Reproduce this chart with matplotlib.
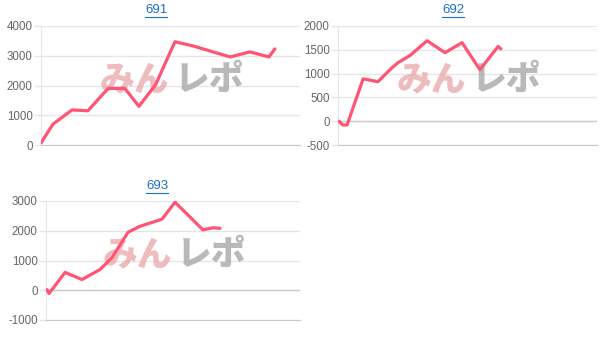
import matplotlib
matplotlib.use("Agg")
import matplotlib.pyplot as plt
from matplotlib.lines import Line2D

# ---- data (x = games, y = medal difference) ----
titles = ["691", "692", "693"]

x_691 = [0, 460, 1200, 1810, 2590, 3240, 3780, 4420, 5170, 5870, 7300, 8070, 8800, 9030]
y_691 = [70, 700, 1180, 1150, 1900, 1900, 1300, 2020, 3470, 3330, 2960, 3130, 2960, 3230]

x_692 = [40, 190, 350, 970, 1540, 2080, 2320, 2780, 3440, 4130, 4790, 5480, 6180, 6290]
y_692 = [0, -80, -80, 890, 830, 1120, 1230, 1380, 1690, 1440, 1650, 1080, 1570, 1520]

x_693 = [40, 120, 750, 1420, 2130, 2600, 3230, 3700, 4570, 5080, 6180, 6570, 6850]
y_693 = [20, -110, 600, 360, 700, 1100, 1950, 2150, 2390, 2960, 2030, 2100, 2080]

yticks_691 = [0, 1000, 2000, 3000, 4000]
yticks_692 = [-500, 0, 500, 1000, 1500, 2000]
yticks_693 = [-1000, 0, 1000, 2000, 3000]

X_MAX = 10000

LINE_C = "#ff5473"
GRID_C = "#e6e6e6"
TICK_C = "#666666"
TITLE_C = "#1a6fd0"

W, H = 603, 342
fig = plt.figure(figsize=(W / 100, H / 100), dpi=100)
plt.rcParams["font.family"] = ["Liberation Sans", "DejaVu Sans"]


def fx(px):
    return px / W


def fy(py):
    return 1 - py / H


panels = [
    dict(left=41, right=300, top=26, bottom=145, x=x_691, y=y_691, yt=yticks_691,
         title=titles[0], tx=156, ty=10),
    dict(left=338, right=597, top=26, bottom=145, x=x_692, y=y_692, yt=yticks_692,
         title=titles[1], tx=453, ty=10),
    dict(left=46, right=300, top=201, bottom=320, x=x_693, y=y_693, yt=yticks_693,
         title=titles[2], tx=157, ty=186),
]

for p in panels:
    ax = fig.add_axes([fx(p["left"]), fy(p["bottom"]), fx(p["right"] - p["left"]),
                       (p["bottom"] - p["top"]) / H])
    ax.set_xlim(0, X_MAX)
    ax.set_ylim(p["yt"][0], p["yt"][-1])
    ax.set_yticks(p["yt"])
    ax.set_yticklabels([str(v) for v in p["yt"]])
    ax.set_xticks([])
    ax.grid(axis="y", color=GRID_C, linewidth=1)
    ax.set_axisbelow(True)
    for s in ["top", "right"]:
        ax.spines[s].set_visible(False)
    ax.spines["left"].set_color(GRID_C)
    ax.spines["bottom"].set_color("#c8c8c8")
    ax.tick_params(axis="y", colors=GRID_C, labelcolor=TICK_C, labelsize=8.3, length=5,
                   width=1, pad=1)
    if p["yt"][0] < 0:
        ax.axhline(0, color="#cccccc", linewidth=1, zorder=1)
    # watermark
    ax.text(0.495, 0.55, "みん", transform=ax.transAxes, ha="right", va="center",
            fontsize=25, fontweight="black", color="#e8a0a4", alpha=0.7,
            family=["Noto Sans CJK JP", "DejaVu Sans"], zorder=1)
    ax.text(0.515, 0.55, "レポ", transform=ax.transAxes, ha="left", va="center",
            fontsize=25, fontweight="black", color="#a8a8a8", alpha=0.8,
            family=["Noto Sans CJK JP", "DejaVu Sans"], zorder=1)
    ax.plot(p["x"], p["y"], color=LINE_C, linewidth=2.3, solid_joinstyle="round",
            solid_capstyle="round", zorder=3)
    # title (underlined link style)
    fig.text(fx(p["tx"]), fy(p["ty"]), p["title"], ha="center", va="center",
             fontsize=9.5, color=TITLE_C)
    fig.add_artist(Line2D([fx(p["tx"] - 11), fx(p["tx"] + 11)],
                          [fy(p["ty"] + 6.5), fy(p["ty"] + 6.5)], color=TITLE_C,
                          linewidth=0.8, transform=fig.transFigure))

fig.savefig("out.png", dpi=100, facecolor="white")
